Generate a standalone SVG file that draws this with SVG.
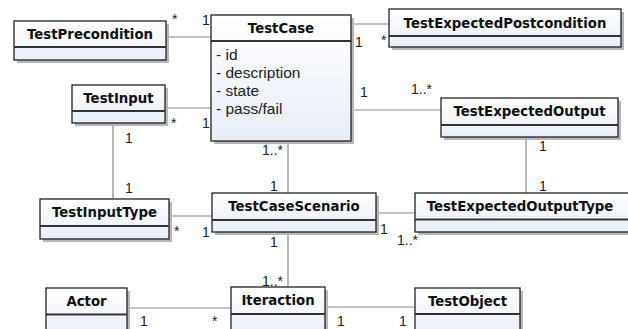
<svg xmlns="http://www.w3.org/2000/svg" width="628" height="329" viewBox="0 0 628 329">
<defs>
<linearGradient id="fill" x1="0" y1="0" x2="0" y2="1">
<stop offset="0" stop-color="#ffffff"/>
<stop offset="1" stop-color="#e8eef8"/>
</linearGradient>
</defs>
<style>
.shadow{fill:#b8b8b8;}
.box{fill:url(#fill);stroke:#222;stroke-width:1.3;}
.sep{stroke:#333;stroke-width:2;}
.title{font-family:"DejaVu Sans",sans-serif;font-weight:bold;font-size:13.3px;fill:#111;text-anchor:middle;}
.attr{font-family:"Liberation Sans",Arial,sans-serif;font-size:15.5px;fill:#222;}
.lbl{font-family:"Liberation Sans",Arial,sans-serif;font-size:14px;fill:#222;}
.conn line{stroke:#8a8a8a;stroke-width:1.2;}
</style>
<rect width="628" height="329" fill="#ffffff"/>
<g class="conn" id="connectors">
<line x1="166" y1="37" x2="211" y2="37"/>
<line x1="351" y1="24" x2="389" y2="24"/>
<line x1="165" y1="108" x2="211" y2="108"/>
<line x1="351" y1="110" x2="441" y2="110"/>
<line x1="113" y1="123" x2="113" y2="199"/>
<line x1="288" y1="141" x2="288" y2="193"/>
<line x1="169" y1="216" x2="212" y2="216"/>
<line x1="376" y1="213" x2="415" y2="213"/>
<line x1="526" y1="137" x2="526" y2="193"/>
<line x1="288" y1="232" x2="288" y2="287"/>
<line x1="127" y1="308" x2="231" y2="308"/>
<line x1="325" y1="307" x2="415" y2="307"/>
<text class="lbl" x="172" y="24">*</text>
<text class="lbl" x="202" y="25">1</text>
<text class="lbl" x="355" y="47">1</text>
<text class="lbl" x="381" y="45">*</text>
<text class="lbl" x="171" y="128">*</text>
<text class="lbl" x="202" y="128">1</text>
<text class="lbl" x="360" y="97">1</text>
<text class="lbl" x="411" y="94">1..*</text>
<text class="lbl" x="125" y="143">1</text>
<text class="lbl" x="125" y="193">1</text>
<text class="lbl" x="262" y="155">1..*</text>
<text class="lbl" x="270" y="191">1</text>
<text class="lbl" x="174" y="236">*</text>
<text class="lbl" x="202" y="237">1</text>
<text class="lbl" x="380" y="234">1</text>
<text class="lbl" x="397" y="245">1..*</text>
<text class="lbl" x="539" y="151">1</text>
<text class="lbl" x="539" y="191">1</text>
<text class="lbl" x="270" y="247">1</text>
<text class="lbl" x="262" y="286">1..*</text>
<text class="lbl" x="140" y="326">1</text>
<text class="lbl" x="212" y="326">*</text>
<text class="lbl" x="337" y="326">1</text>
<text class="lbl" x="399" y="326">1</text>
</g>
<g id="TestPrecondition">
<rect class="shadow" x="17" y="24" width="152" height="39"/>
<rect class="box" x="14" y="21" width="152" height="39"/>
<line class="sep" x1="14" y1="47" x2="166" y2="47"/>
<text class="title" x="90" y="39">TestPrecondition</text>
</g>
<g id="TestCase">
<rect class="shadow" x="214" y="18" width="140" height="126"/>
<rect class="box" x="211" y="15" width="140" height="126"/>
<line class="sep" x1="211" y1="41" x2="351" y2="41"/>
<text class="title" x="281" y="33">TestCase</text>
<text class="attr" x="216" y="60">- id</text>
<text class="attr" x="216" y="78">- description</text>
<text class="attr" x="216" y="96">- state</text>
<text class="attr" x="216" y="114">- pass/fail</text>
</g>
<g id="TestExpectedPostcondition">
<rect class="shadow" x="392" y="12" width="232" height="38"/>
<rect class="box" x="389" y="9" width="232" height="38"/>
<line class="sep" x1="389" y1="36" x2="621" y2="36"/>
<text class="title" x="505" y="28">TestExpectedPostcondition</text>
</g>
<g id="TestInput">
<rect class="shadow" x="75" y="88" width="93" height="38"/>
<rect class="box" x="72" y="85" width="93" height="38"/>
<line class="sep" x1="72" y1="111" x2="165" y2="111"/>
<text class="title" x="118.5" y="103">TestInput</text>
</g>
<g id="TestExpectedOutput">
<rect class="shadow" x="444" y="101" width="177" height="39"/>
<rect class="box" x="441" y="98" width="177" height="39"/>
<line class="sep" x1="441" y1="125" x2="618" y2="125"/>
<text class="title" x="529.5" y="116">TestExpectedOutput</text>
</g>
<g id="TestInputType">
<rect class="shadow" x="43" y="202" width="129" height="40"/>
<rect class="box" x="40" y="199" width="129" height="40"/>
<line class="sep" x1="40" y1="226" x2="169" y2="226"/>
<text class="title" x="104.5" y="217">TestInputType</text>
</g>
<g id="TestCaseScenario">
<rect class="shadow" x="215" y="196" width="164" height="39"/>
<rect class="box" x="212" y="193" width="164" height="39"/>
<line class="sep" x1="212" y1="220" x2="376" y2="220"/>
<text class="title" x="294" y="211">TestCaseScenario</text>
</g>
<g id="TestExpectedOutputType">
<rect class="shadow" x="418" y="196" width="220" height="39"/>
<rect class="box" x="415" y="193" width="220" height="39"/>
<line class="sep" x1="415" y1="219.5" x2="635" y2="219.5"/>
<text class="title" x="520" y="211">TestExpectedOutputType</text>
</g>
<g id="Actor">
<rect class="shadow" x="49" y="291" width="81" height="50"/>
<rect class="box" x="46" y="288" width="81" height="50"/>
<line class="sep" x1="46" y1="314.5" x2="127" y2="314.5"/>
<text class="title" x="86.5" y="306">Actor</text>
</g>
<g id="Iteraction">
<rect class="shadow" x="234" y="290" width="94" height="50"/>
<rect class="box" x="231" y="287" width="94" height="50"/>
<line class="sep" x1="231" y1="314" x2="325" y2="314"/>
<text class="title" x="278" y="305">Iteraction</text>
</g>
<g id="TestObject">
<rect class="shadow" x="418" y="291" width="105" height="50"/>
<rect class="box" x="415" y="288" width="105" height="50"/>
<line class="sep" x1="415" y1="314" x2="520" y2="314"/>
<text class="title" x="467.5" y="306">TestObject</text>
</g>
</svg>
